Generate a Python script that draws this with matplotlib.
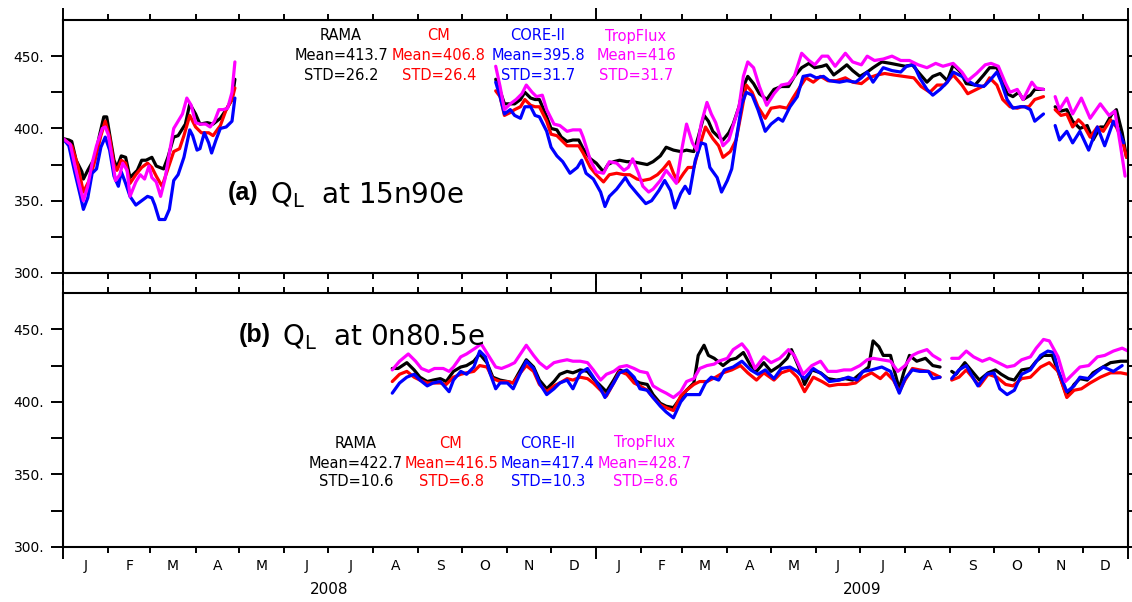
import matplotlib.pyplot as plt
import matplotlib.transforms as mtransforms
import numpy as np

# Latent heat flux Q_L (W/m2), daily, Jan 2008 - Dec 2009.
# x = day number counted from 1 Jan 2008; None marks a data gap.

month_len = [31, 29, 31, 30, 31, 30, 31, 31, 30, 31, 30, 31,
             31, 28, 31, 30, 31, 30, 31, 31, 30, 31, 30, 31]
month_abbr = list("JFMAMJJASOND") * 2
year_names = ["2008", "2009"]

products = ["RAMA", "CM", "CORE-II", "TropFlux"]
colors = ["black", "red", "blue", "magenta"]

# ---- (a) 15n90e ----
a_rama = [(0, 393), (4, 392), (6, 391), (9, 378), (13, 370), (14, 365), (17, 371), (22, 380),
          (25, 395), (28, 408), (30, 408), (32, 396), (35, 378), (37, 373), (40, 381), (43, 380),
          (46, 366), (51, 371), (54, 378), (57, 378), (61, 380), (64, 374), (69, 372), (72, 380),
          (76, 394), (79, 395), (84, 403), (87, 417), (91, 410), (94, 403), (99, 404), (103, 403),
          (108, 407), (112, 413), (116, 420), (118, 434), None,
          (297, 434), (300, 426), (303, 417), (307, 417), (310, 417), (314, 420), (317, 425),
          (321, 421), (324, 420), (327, 420), (332, 408), (335, 400), (339, 399), (342, 394),
          (346, 391), (350, 392), (354, 392), (357, 386), (362, 379), (366, 376), (371, 370),
          (374, 375), (378, 377), (382, 378), (387, 377), (391, 377), (396, 376), (401, 375),
          (405, 377), (410, 381), (414, 387), (419, 385), (424, 384), (428, 385), (433, 384),
          (436, 394), (440, 409), (443, 405), (446, 398), (450, 394), (453, 392), (457, 397),
          (460, 403), (464, 415), (467, 429), (470, 436), (474, 431), (478, 424), (483, 420),
          (488, 427), (493, 429), (498, 429), (502, 436), (507, 442), (512, 445), (516, 442),
          (521, 443), (524, 444), (529, 437), (533, 440), (538, 444), (542, 440), (547, 436),
          (552, 439), (556, 442), (562, 446), (568, 445), (573, 444), (578, 443), (583, 444),
          (587, 439), (593, 432), (597, 436), (602, 438), (607, 433), (611, 444), (616, 439),
          (620, 431), (626, 430), (632, 437), (636, 442), (641, 442), (644, 435), (648, 424),
          (652, 422), (656, 425), (659, 420), (664, 423), (667, 427), (673, 427), None,
          (681, 415), (685, 412), (689, 413), (693, 405), (698, 400), (703, 402), (707, 392),
          (712, 401), (715, 401), (720, 410), (723, 413), (727, 397), (730, 380)]

a_cm = [(0, 393), (6, 388), (10, 375), (14, 356), (18, 364), (22, 378), (26, 395), (29, 405),
        (32, 394), (35, 375), (37, 371), (40, 378), (43, 376), (46, 362), (50, 368), (54, 373),
        (58, 376), (61, 373), (64, 367), (68, 360), (72, 372), (76, 384), (80, 386), (83, 395),
        (87, 409), (91, 401), (95, 397), (100, 397), (103, 395), (108, 402), (112, 413),
        (116, 420), (118, 428), None,
        (297, 426), (300, 422), (303, 409), (307, 411), (310, 413), (314, 415), (317, 420),
        (321, 416), (324, 415), (327, 415), (332, 405), (335, 396), (339, 395), (342, 392),
        (346, 388), (350, 388), (354, 388), (357, 383), (362, 373), (366, 368), (371, 363),
        (375, 368), (380, 369), (385, 368), (389, 368), (394, 365), (398, 364), (403, 365),
        (408, 368), (412, 372), (416, 377), (419, 369), (422, 363), (426, 369), (429, 373),
        (433, 373), (437, 388), (441, 401), (446, 393), (450, 388), (453, 380), (458, 384),
        (462, 392), (466, 413), (469, 430), (473, 425), (477, 415), (482, 407), (486, 414),
        (492, 415), (497, 414), (501, 421), (506, 429), (510, 435), (515, 432), (520, 436),
        (525, 433), (531, 433), (537, 435), (542, 432), (548, 431), (553, 435), (559, 437),
        (564, 438), (570, 437), (577, 436), (584, 435), (589, 429), (595, 425), (600, 430),
        (605, 430), (611, 437), (617, 430), (621, 424), (627, 427), (633, 430), (636, 435),
        (641, 430), (645, 420), (650, 415), (655, 414), (658, 415), (663, 415), (667, 420),
        (673, 422), None,
        (681, 413), (685, 409), (689, 410), (693, 401), (697, 406), (700, 403), (705, 394),
        (710, 401), (714, 398), (719, 406), (723, 401), (727, 392), (730, 380)]

a_core = [(0, 393), (4, 388), (8, 370), (12, 353), (14, 344), (17, 352), (20, 369), (23, 372),
          (26, 387), (29, 394), (32, 385), (35, 367), (38, 360), (40, 370), (43, 362), (46, 353),
          (50, 347), (54, 350), (58, 353), (61, 352), (63, 347), (66, 337), (70, 337), (73, 344),
          (76, 364), (79, 368), (83, 380), (87, 399), (89, 395), (92, 385), (94, 386), (97, 397),
          (100, 390), (102, 383), (105, 392), (108, 400), (112, 401), (116, 405), (118, 421), None,
          (297, 432), (300, 422), (303, 410), (307, 413), (310, 409), (314, 407), (317, 415),
          (321, 415), (324, 409), (327, 408), (332, 398), (335, 387), (339, 381), (343, 377),
          (348, 369), (353, 373), (356, 378), (359, 369), (364, 365), (369, 356), (372, 346),
          (375, 353), (380, 358), (386, 366), (389, 361), (394, 355), (400, 348), (404, 350),
          (409, 357), (413, 364), (417, 357), (420, 345), (424, 355), (427, 360), (430, 355),
          (434, 378), (438, 390), (441, 389), (444, 373), (449, 366), (452, 356), (456, 364),
          (459, 372), (462, 392), (466, 417), (469, 425), (473, 423), (477, 413), (482, 398),
          (486, 403), (491, 407), (494, 405), (499, 415), (504, 422), (508, 436), (513, 437),
          (517, 435), (522, 436), (526, 433), (533, 432), (538, 433), (544, 432), (548, 435),
          (552, 439), (556, 432), (563, 442), (569, 440), (575, 439), (579, 443), (584, 444),
          (588, 435), (593, 427), (597, 423), (602, 427), (607, 432), (611, 439), (617, 436),
          (621, 433), (626, 430), (632, 429), (636, 433), (641, 439), (644, 432), (648, 420),
          (652, 414), (657, 415), (660, 415), (664, 413), (667, 405), (673, 410), None,
          (681, 402), (684, 392), (689, 398), (693, 390), (698, 398), (704, 385), (710, 401),
          (715, 388), (721, 405), (724, 400), (728, 390)]

a_trop = [(0, 393), (5, 389), (8, 375), (11, 362), (14, 350), (17, 360), (20, 376), (23, 388),
          (27, 400), (29, 401), (31, 396), (34, 378), (36, 364), (39, 368), (41, 376), (44, 371),
          (46, 353), (50, 363), (53, 368), (56, 365), (59, 374), (61, 366), (64, 363), (67, 353),
          (70, 365), (73, 383), (76, 400), (79, 405), (82, 410), (85, 421), (88, 416), (91, 404),
          (94, 403), (98, 403), (101, 401), (104, 405), (107, 413), (110, 413), (113, 414),
          (116, 425), (118, 446), None,
          (297, 443), (300, 429), (303, 413), (307, 417), (311, 420), (315, 424), (318, 430),
          (322, 425), (325, 422), (329, 423), (332, 413), (337, 403), (341, 402), (346, 398),
          (350, 399), (355, 399), (357, 394), (362, 378), (366, 370), (371, 369), (375, 377),
          (380, 376), (385, 371), (388, 373), (391, 379), (395, 369), (398, 360), (402, 356),
          (405, 358), (410, 364), (414, 371), (418, 366), (421, 362), (425, 387), (428, 403),
          (432, 390), (435, 385), (438, 403), (442, 418), (445, 410), (448, 404), (453, 388),
          (457, 392), (460, 402), (464, 415), (467, 436), (470, 446), (474, 442), (478, 429),
          (483, 416), (488, 424), (493, 430), (498, 431), (502, 436), (507, 452), (512, 447),
          (516, 444), (521, 450), (525, 450), (530, 443), (537, 452), (542, 446), (548, 444),
          (552, 450), (557, 447), (563, 448), (569, 450), (575, 447), (581, 447), (587, 444),
          (593, 442), (599, 445), (604, 443), (611, 445), (617, 439), (621, 433), (627, 438),
          (633, 444), (637, 445), (642, 443), (647, 431), (650, 425), (655, 427), (659, 420),
          (665, 432), (668, 428), (673, 427), None,
          (681, 422), (684, 413), (689, 421), (693, 410), (699, 421), (705, 407), (712, 417),
          (718, 409), (722, 412), (726, 387), (729, 367)]

a_mean = [413.7, 406.8, 395.8, 416]
a_std = [26.2, 26.4, 31.7, 31.7]

# ---- (b) 0n80.5e ----
b_rama = [(226, 423), (230, 423), (236, 427), (241, 422), (245, 417), (250, 414), (254, 415),
          (259, 416), (263, 414), (268, 421), (273, 424), (277, 425), (282, 428), (286, 433),
          (291, 427), (295, 417), (300, 415), (305, 414), (309, 413), (314, 422), (318, 429),
          (323, 424), (327, 415), (332, 409), (337, 414), (341, 419), (346, 421), (350, 420),
          (355, 422), (360, 421), (364, 416), (369, 411), (373, 407), (378, 415), (382, 422),
          (387, 420), (392, 415), (396, 413), (401, 412), (405, 405), (410, 399), (414, 397),
          (419, 396), (424, 403), (428, 408), (433, 413), (436, 432), (440, 439), (443, 432),
          (447, 430), (453, 425), (458, 429), (462, 430), (467, 434), (472, 425), (476, 421),
          (481, 427), (486, 421), (492, 425), (497, 430), (500, 436), (505, 424), (509, 412),
          (514, 422), (520, 420), (525, 416), (531, 415), (537, 416), (542, 415), (548, 420),
          (553, 424), (556, 442), (560, 438), (563, 432), (568, 432), (571, 420), (574, 409),
          (577, 420), (581, 432), (586, 428), (592, 430), (597, 425), (602, 424), None,
          (610, 421), (613, 419), (619, 427), (624, 421), (629, 415), (635, 420), (640, 422),
          (644, 419), (649, 416), (653, 415), (658, 422), (664, 423), (668, 428), (673, 432),
          (679, 432), (683, 421), (689, 404), (694, 412), (698, 416), (703, 415), (707, 420),
          (712, 423), (719, 427), (726, 428), (731, 428)]

b_cm = [(226, 414), (231, 419), (236, 421), (241, 417), (245, 415), (250, 413), (254, 413),
        (259, 413), (263, 412), (268, 417), (273, 419), (277, 420), (282, 421), (286, 425),
        (291, 424), (295, 416), (300, 414), (305, 414), (309, 413), (314, 420), (318, 425),
        (323, 421), (327, 412), (332, 407), (337, 411), (341, 413), (346, 416), (350, 415),
        (355, 417), (360, 416), (364, 413), (369, 408), (373, 404), (378, 413), (382, 421),
        (387, 419), (392, 413), (396, 411), (401, 408), (405, 403), (410, 398), (414, 396),
        (419, 394), (424, 404), (428, 408), (433, 412), (437, 414), (442, 414), (448, 417),
        (453, 420), (459, 422), (465, 425), (470, 420), (476, 415), (481, 420), (488, 415),
        (493, 420), (499, 422), (504, 417), (509, 407), (515, 417), (521, 414), (526, 411),
        (532, 412), (538, 412), (544, 413), (549, 417), (555, 420), (561, 416), (565, 420),
        (570, 415), (574, 407), (578, 415), (583, 423), (588, 422), (594, 421), (602, 417), None,
        (610, 415), (615, 417), (620, 422), (625, 416), (629, 411), (635, 419), (641, 417),
        (647, 412), (652, 411), (658, 416), (664, 417), (671, 424), (677, 427), (683, 421),
        (689, 403), (694, 408), (699, 409), (705, 413), (712, 417), (719, 420), (726, 420),
        (731, 419)]

b_core = [(226, 406), (231, 413), (236, 417), (241, 419), (245, 415), (250, 411), (254, 413),
          (259, 414), (265, 407), (268, 415), (273, 421), (277, 419), (282, 424), (286, 435),
          (290, 431), (293, 420), (297, 409), (300, 413), (305, 413), (309, 409), (314, 420),
          (318, 428), (323, 423), (327, 413), (332, 405), (337, 409), (341, 413), (346, 415),
          (350, 409), (355, 420), (360, 423), (364, 417), (369, 409), (372, 403), (378, 413),
          (382, 420), (387, 422), (392, 417), (396, 409), (401, 408), (405, 403), (410, 397),
          (414, 393), (419, 389), (424, 400), (428, 405), (434, 405), (437, 405), (441, 413),
          (445, 417), (450, 415), (454, 422), (460, 424), (466, 428), (472, 422), (477, 419),
          (482, 422), (488, 416), (493, 423), (499, 424), (504, 421), (509, 416), (515, 423),
          (521, 419), (526, 414), (533, 415), (539, 417), (545, 415), (549, 421), (555, 422),
          (562, 424), (568, 421), (574, 406), (578, 416), (583, 422), (588, 421), (594, 421),
          (597, 416), (602, 417), None,
          (610, 416), (615, 422), (620, 425), (625, 416), (628, 411), (634, 419), (639, 420),
          (643, 409), (648, 405), (653, 408), (658, 419), (664, 422), (671, 432), (676, 435),
          (680, 434), (683, 422), (689, 407), (694, 411), (698, 417), (704, 416), (710, 421),
          (714, 424), (721, 421), (727, 425)]

b_trop = [(226, 422), (231, 428), (237, 433), (242, 428), (246, 423), (251, 421), (255, 423),
          (261, 423), (265, 421), (268, 424), (273, 431), (277, 433), (283, 437), (287, 440),
          (292, 432), (297, 424), (301, 423), (306, 425), (310, 427), (314, 433), (318, 439),
          (323, 432), (327, 427), (332, 423), (337, 427), (341, 428), (346, 429), (350, 428),
          (355, 428), (360, 427), (364, 422), (369, 415), (373, 419), (378, 421), (382, 424),
          (387, 425), (392, 423), (396, 421), (401, 420), (405, 411), (410, 408), (414, 406),
          (419, 403), (424, 407), (428, 414), (433, 416), (437, 423), (442, 425), (447, 426),
          (450, 428), (456, 430), (460, 436), (466, 440), (470, 435), (475, 423), (481, 431),
          (486, 427), (492, 430), (498, 436), (502, 432), (508, 419), (514, 425), (520, 428),
          (525, 421), (531, 421), (536, 422), (541, 422), (547, 425), (552, 429), (556, 430),
          (562, 429), (568, 428), (573, 421), (578, 425), (583, 432), (587, 434), (593, 436),
          (597, 432), (602, 429), None,
          (610, 430), (615, 430), (620, 435), (625, 431), (631, 428), (636, 430), (642, 427),
          (648, 424), (653, 425), (658, 429), (664, 431), (668, 437), (673, 443), (677, 442),
          (683, 431), (688, 414), (694, 420), (698, 424), (704, 425), (710, 431), (715, 432),
          (721, 435), (727, 437), (731, 435)]

b_mean = [422.7, 416.5, 417.4, 428.7]
b_std = [10.6, 6.8, 10.3, 8.6]


def unpack(points):
    """Split (day, value) pairs into arrays, turning None into a line break."""
    pts = [(np.nan, np.nan) if p is None else p for p in points]
    day, val = zip(*pts)
    return np.array(day, float), np.array(val, float)


W, H = 1132, 602


def px_rect(left, top, right, bottom):
    return [left / W, 1 - bottom / H, (right - left) / W, (bottom - top) / H]


def fx(px):
    return px / W


def fy(py):
    return 1 - py / H


fig = plt.figure(figsize=(W / 100, H / 100), dpi=100)
ax_a = fig.add_axes(px_rect(63, 20, 1128, 273))
ax_b = fig.add_axes(px_rect(63, 293, 1128, 547))

month_edges = np.concatenate([[0], np.cumsum(month_len)])
year_edges = [0, month_edges[12], month_edges[24]]
month_mid = (month_edges[:-1] + month_edges[1:]) / 2

for ax in (ax_a, ax_b):
    ax.set_xlim(0, month_edges[-1])
    ax.set_ylim(300, 475)
    ax.set_xticks(year_edges)
    ax.set_xticks(month_edges, minor=True)
    ax.tick_params(axis="x", which="both", direction="out", top=True, bottom=True,
                   labelbottom=False, width=1.4)
    ax.tick_params(axis="x", which="major", length=8.5)
    ax.tick_params(axis="x", which="minor", length=4.3)
    ax.set_yticks([300, 350, 400, 450])
    ax.set_yticks([325, 375, 425], minor=True)
    ax.set_yticklabels([f"{v}." for v in [300, 350, 400, 450]])
    ax.tick_params(axis="y", which="both", direction="out", left=True, right=True,
                   length=8.5, width=1.4, labelsize=10, pad=5)
    for sp in ax.spines.values():
        sp.set_linewidth(1.5)

series_a = [a_rama, a_cm, a_core, a_trop]
series_b = [b_rama, b_cm, b_core, b_trop]
for ax, series in ((ax_a, series_a), (ax_b, series_b)):
    for pts, c in zip(series, colors):
        d, v = unpack(pts)
        ax.plot(d, v, color=c, lw=2.3, solid_joinstyle="round", solid_capstyle="round")

# station labels
fig.text(fx(228), fy(193), "(a)", fontsize=18, fontweight="bold",
         family="Liberation Sans", ha="left", va="center")
fig.text(fx(270), fy(195), r"Q$_\mathregular{L}$  at 15n90e", fontsize=20,
         ha="left", va="center")
fig.text(fx(239), fy(335), "(b)", fontsize=18, fontweight="bold",
         family="Liberation Sans", ha="left", va="center")
fig.text(fx(282), fy(337), r"Q$_\mathregular{L}$  at 0n80.5e", fontsize=20,
         ha="left", va="center")

# statistics for each product
stat_cols_a = [341, 439, 538, 636]
stat_rows_a = [36, 56, 75]
stat_cols_b = [356, 451, 548, 645]
stat_rows_b = [443, 463, 481]
for cols, rows, means, stds in ((stat_cols_a, stat_rows_a, a_mean, a_std),
                                (stat_cols_b, stat_rows_b, b_mean, b_std)):
    for x, name, c, m, s in zip(cols, products, colors, means, stds):
        for y, txt in zip(rows, [name, f"Mean={m:g}", f"STD={s:g}"]):
            fig.text(fx(x), fy(y), txt, color=c, fontsize=10.5, ha="center", va="center")

# month and year labels under the lower panel
trans = mtransforms.blended_transform_factory(ax_b.transData, fig.transFigure)
for xm, lab in zip(month_mid, month_abbr):
    ax_b.text(xm, fy(566), lab, transform=trans, fontsize=10, ha="center", va="center")
for i, yr in enumerate(year_names):
    xm = (year_edges[i] + year_edges[i + 1]) / 2
    ax_b.text(xm, fy(590), yr, transform=trans, fontsize=11, ha="center", va="center")

fig.savefig("out.png", dpi=100)
